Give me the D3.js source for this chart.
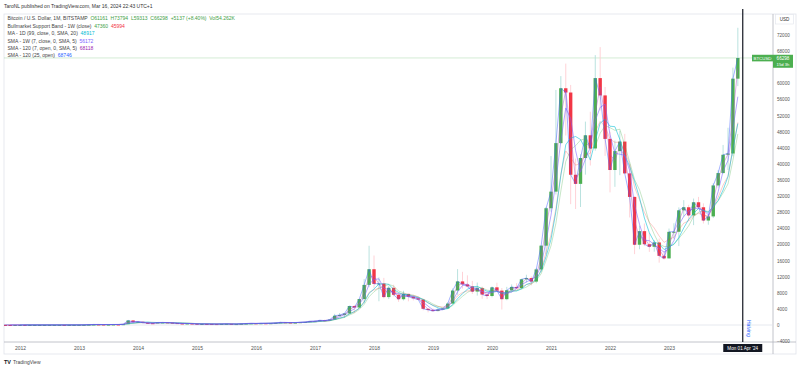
<!DOCTYPE html>
<html>
<head>
<meta charset="utf-8">
<script src="https://cdn.jsdelivr.net/npm/d3@7"></script>
<style>
  body { margin: 0; background: #fff; }
  text { font-family: "Liberation Sans", Arial, sans-serif; }
</style>
</head>
<body>
<script>
// Monthly BTC/USD candles (Bitstamp), Sep 2011 .. Mar 2024
const firstMonth = new Date(2011, 8, 1);

const opens = [
  5.3, 5.1, 3.2, 3.0,
  4.7, 5.5, 4.9, 4.9, 5.0, 5.15, 6.7, 9.3, 10.2, 12.4, 11.2, 12.6,
  13.5, 20.4, 33.4, 93, 139, 129, 97, 106, 135, 128, 204, 1130,
  732, 800, 550, 450, 446, 628, 640, 585, 480, 386, 338, 378,
  320, 217, 254, 244, 236, 230, 263, 284, 230, 236, 314, 377,
  430, 369, 437, 416, 448, 531, 673, 624, 573, 608, 699, 743,
  964, 965, 1190, 1080, 1350, 2300, 2480, 2870, 4710, 4340, 6440, 9950,
  13850, 10200, 10300, 6930, 9240, 7500, 6400, 7730, 7020, 6630, 6310, 4020,
  3740, 3460, 3830, 4100, 5320, 8560, 10820, 10080, 9600, 8300, 9160, 7560,
  7200, 9350, 8540, 6410, 8630, 9450, 9140, 11350, 11650, 10780, 13800, 19700,
  28990, 33110, 45160, 58780, 57720, 37300, 35040, 41460, 47100, 43830, 61300, 57000,
  46200, 38480, 43180, 45540, 37640, 31800, 19930, 23300, 20050, 19420, 20490, 17170,
  16540, 23130, 23150, 28470, 29230, 27210, 30470, 29230, 25940, 26960, 34650, 37720,
  42270, 42580, 61161
];
const highs = [
  6.0, 5.3, 3.7, 4.8,
  7.4, 6.3, 5.4, 5.3, 5.2, 6.7, 9.3, 15.4, 12.9, 12.6, 12.9, 13.8,
  20.4, 33.4, 95, 260, 140, 130, 110, 135, 145, 215, 1163, 1163,
  1000, 840, 710, 550, 640, 680, 650, 600, 500, 420, 460, 385,
  320, 265, 300, 261, 248, 268, 318, 285, 245, 335, 495, 465,
  462, 440, 440, 467, 550, 780, 675, 625, 630, 720, 760, 970,
  1150, 1205, 1300, 1420, 2760, 2980, 2910, 4740, 4980, 6470, 11400, 19666,
  17250, 11800, 11700, 9800, 9990, 7780, 8500, 7760, 7400, 7000, 6570, 4250,
  4100, 4200, 4120, 5640, 9100, 13880, 13200, 12330, 10950, 10540, 9530, 7750,
  9580, 10500, 9190, 9470, 10080, 10390, 11450, 12470, 12070, 14100, 19860, 29300,
  41950, 58350, 61790, 64900, 59600, 41330, 42400, 50500, 52950, 67000, 69000, 59100,
  47990, 45800, 48200, 47450, 40000, 31950, 24650, 25200, 22800, 21100, 21450, 18390,
  23950, 25250, 29200, 31000, 29840, 31400, 31800, 30200, 27480, 35200, 38450, 44700,
  48970, 63900, 73794
];
const lows = [
  4.4, 2.2, 2.0, 2.8,
  4.3, 4.2, 4.5, 4.7, 4.9, 5.1, 6.5, 7.1, 9.8, 9.9, 10.0, 12.2,
  12.8, 19.5, 33, 50, 79, 65, 65, 102, 108, 105, 200, 410,
  730, 400, 440, 340, 420, 550, 570, 440, 360, 290, 320, 300,
  152, 212, 236, 214, 227, 218, 253, 162, 225, 235, 305, 350,
  350, 365, 397, 414, 440, 520, 580, 470, 567, 604, 680, 741,
  750, 910, 900, 1060, 1350, 2100, 1840, 2700, 2970, 4110, 5500, 9380,
  9200, 5900, 6600, 6440, 7100, 5750, 6080, 5880, 6100, 6200, 3650, 3150,
  3350, 3380, 3700, 4080, 5320, 7500, 9050, 9320, 7710, 7300, 6510, 6430,
  6870, 8450, 3850, 6150, 8120, 8910, 8970, 10530, 9840, 10380, 13200, 17600,
  28130, 32400, 44950, 47050, 30000, 28800, 29300, 37330, 39600, 43290, 53250, 42000,
  32930, 34300, 37200, 37580, 26700, 17600, 18800, 19600, 18150, 18200, 15480, 16260,
  16500, 21400, 19600, 26900, 25810, 24800, 28900, 25200, 24900, 26550, 34100, 37600,
  38500, 41880, 59313
];
const closes = [
  5.1, 3.2, 3.0, 4.7,
  5.5, 4.9, 4.9, 5.0, 5.15, 6.7, 9.3, 10.2, 12.4, 11.2, 12.6, 13.5,
  20.4, 33.4, 93, 139, 129, 97, 106, 135, 128, 204, 1130, 732,
  800, 550, 450, 446, 628, 640, 585, 480, 386, 338, 378, 320,
  217, 254, 244, 236, 230, 263, 284, 230, 236, 314, 377, 430,
  369, 437, 416, 448, 531, 673, 624, 573, 608, 699, 743, 964,
  965, 1190, 1080, 1350, 2300, 2480, 2870, 4710, 4340, 6440, 9950, 13850,
  10200, 10300, 6930, 9240, 7500, 6400, 7730, 7020, 6630, 6310, 4020, 3740,
  3460, 3830, 4100, 5320, 8560, 10820, 10080, 9600, 8300, 9160, 7560, 7200,
  9350, 8540, 6410, 8630, 9450, 9140, 11350, 11650, 10780, 13800, 19700, 28990,
  33110, 45160, 58780, 57720, 37300, 35040, 41460, 47100, 43830, 61300, 57000, 46200,
  38480, 43180, 45540, 37640, 31800, 19930, 23300, 20050, 19420, 20490, 17170, 16540,
  23130, 23150, 28470, 29230, 27210, 30470, 29230, 25940, 26960, 34650, 37720, 42270,
  42580, 61160, 66298
];

// 2024 sits under the crosshair date label, so it is not drawn
const yearLabels = ["2012", "2013", "2014", "2015", "2016", "2017", "2018",
                    "2019", "2020", "2021", "2022", "2023"];
const priceTicks = [-4000, 0, 4000, 8000, 12000, 16000, 20000, 24000, 28000, 32000,
                    36000, 40000, 44000, 48000, 52000, 56000, 60000, 68000, 72000];
const lastPrice = 66298;

const W = 800, H = 370;
const plot = { left: 4, right: 773, top: 14, bottom: 342 };

const candles = opens.map((o, i) => ({ i, o, h: highs[i], l: lows[i], c: closes[i] }));

// month index -> px (Jan 2012 is index 4)
const x = d3.scaleLinear().domain([4, 148]).range([20, 728]);
const y = d3.scaleLinear().domain([0, 72000]).range([325, 35]);

// indicator lines, derived from the closes
function sma(arr, n) {
  return arr.map((v, i) => i < n - 1 ? NaN : d3.mean(arr.slice(i - n + 1, i + 1)));
}
function ema(arr, n) {
  const k = 2 / (n + 1);
  let prev = arr[0];
  return arr.map(v => (prev = prev + k * (v - prev)));
}
const indicators = [
  { values: ema(closes, 6), color: "#f44336", opacity: 0.35 },
  { values: sma(closes, 6), color: "#4caf50", opacity: 0.4 },
  { values: sma(closes, 5), color: "#00bcd4", opacity: 0.7 },
  { values: sma(closes, 3), color: "#7b61ff", opacity: 0.7 },
  { values: sma(closes, 2), color: "#ab47bc", opacity: 0.55 },
  { values: closes, color: "#3d5afe", opacity: 0.6 }
];

const svg = d3.select("body").append("svg")
  .attr("width", W)
  .attr("height", H);

svg.append("defs").append("clipPath").attr("id", "clip")
  .append("rect")
  .attr("x", plot.left).attr("y", plot.top)
  .attr("width", plot.right - plot.left).attr("height", plot.bottom - plot.top);

// frame
svg.append("rect")
  .attr("x", plot.left).attr("y", plot.top)
  .attr("width", 796 - plot.left).attr("height", 354 - plot.top)
  .attr("fill", "none").attr("stroke", "#e0e3eb").attr("stroke-width", 0.8);
svg.append("line")
  .attr("x1", plot.right).attr("x2", plot.right)
  .attr("y1", plot.top).attr("y2", 354)
  .attr("stroke", "#b2b5be").attr("stroke-width", 0.8);

// header
svg.append("text")
  .attr("x", 4).attr("y", 8)
  .attr("font-size", 5).attr("fill", "#333")
  .text("TaroNL published on TradingView.com, Mar 16, 2024 22:43 UTC+1");

const g = svg.append("g").attr("clip-path", "url(#clip)");

// zero line and last price line
g.append("line")
  .attr("x1", plot.left).attr("x2", plot.right)
  .attr("y1", y(0)).attr("y2", y(0))
  .attr("stroke", "#e0e3eb").attr("stroke-width", 0.8);
g.append("line")
  .attr("x1", plot.left).attr("x2", plot.right)
  .attr("y1", y(lastPrice)).attr("y2", y(lastPrice))
  .attr("stroke", "#4caf50").attr("stroke-opacity", 0.3).attr("stroke-width", 0.8);

// wicks
g.selectAll(".wick")
  .data(candles)
  .enter().append("line")
  .attr("class", "wick")
  .attr("x1", d => x(d.i)).attr("x2", d => x(d.i))
  .attr("y1", d => y(d.h)).attr("y2", d => y(d.l))
  .attr("stroke", d => d.c >= d.o ? "#b2dfdb" : "#ffcdd2")
  .attr("stroke-width", 0.9);

// bodies
g.selectAll(".body")
  .data(candles)
  .enter().append("rect")
  .attr("class", "body")
  .attr("x", d => x(d.i) - 1.7)
  .attr("width", 3.4)
  .attr("y", d => y(Math.max(d.o, d.c)))
  .attr("height", d => Math.max(1, Math.abs(y(d.o) - y(d.c))))
  .attr("fill", d => d.c >= d.o ? "#4caf50" : "#f23645");

// indicators
const line = d3.line()
  .defined(v => !isNaN(v))
  .x((v, i) => x(i))
  .y(v => y(v));

g.selectAll(".ind")
  .data(indicators)
  .enter().append("path")
  .attr("class", "ind")
  .attr("d", d => line(d.values))
  .attr("fill", "none")
  .attr("stroke", d => d.color)
  .attr("stroke-opacity", d => d.opacity)
  .attr("stroke-width", 0.8);

// x axis
const xAxis = svg.append("g")
  .attr("transform", "translate(0," + plot.bottom + ")")
  .call(d3.axisBottom(x)
    .tickValues(yearLabels.map((s, k) => 4 + k * 12))
    .tickFormat((d, k) => yearLabels[k])
    .tickSize(0).tickPadding(4));
xAxis.select(".domain").remove();
xAxis.selectAll("text").attr("font-size", 5).attr("fill", "#555").attr("font-family", null);
svg.append("line")
  .attr("x1", plot.left).attr("x2", 796)
  .attr("y1", plot.bottom).attr("y2", plot.bottom)
  .attr("stroke", "#b2b5be").attr("stroke-width", 0.8);

// y axis
const yAxis = svg.append("g")
  .attr("transform", "translate(" + (plot.right + 1) + ",0)")
  .call(d3.axisRight(y).tickValues(priceTicks).tickFormat(d3.format("d")).tickSize(0).tickPadding(3));
yAxis.select(".domain").remove();
yAxis.selectAll("text").attr("font-size", 4.6).attr("fill", "#555").attr("font-family", null);

// halving marker + crosshair
const crossX = x(151);
svg.append("line")
  .attr("x1", crossX).attr("x2", crossX)
  .attr("y1", 9).attr("y2", plot.bottom)
  .attr("stroke", "#131722").attr("stroke-width", 1.2);
svg.append("text")
  .attr("transform", "translate(" + (crossX + 4) + ",320) rotate(90)")
  .attr("font-size", 5).attr("fill", "#2962ff")
  .text("Halving");
svg.append("rect")
  .attr("x", crossX - 19.5).attr("y", 344)
  .attr("width", 39).attr("height", 8)
  .attr("fill", "#131722");
svg.append("text")
  .attr("x", crossX).attr("y", 349.8)
  .attr("text-anchor", "middle")
  .attr("font-size", 4.6).attr("fill", "#fff")
  .text("Mon 01 Apr '24");

// price labels
svg.append("rect")
  .attr("x", 752).attr("y", y(lastPrice) - 3.2)
  .attr("width", 21).attr("height", 6.6)
  .attr("fill", "#4caf50");
svg.append("text")
  .attr("x", 762.5).attr("y", y(lastPrice) + 1.7)
  .attr("text-anchor", "middle")
  .attr("font-size", 4.4).attr("fill", "#fff")
  .text("BTCUSD");
svg.append("rect")
  .attr("x", plot.right).attr("y", y(lastPrice) - 3.2)
  .attr("width", 20).attr("height", 13)
  .attr("fill", "#4caf50");
svg.append("text")
  .attr("x", 783).attr("y", y(lastPrice) + 1.7)
  .attr("text-anchor", "middle")
  .attr("font-size", 4.6).attr("fill", "#fff")
  .text(String(lastPrice));
svg.append("text")
  .attr("x", 783).attr("y", y(lastPrice) + 7.6)
  .attr("text-anchor", "middle")
  .attr("font-size", 4.2).attr("fill", "#fff")
  .text("15d 3h");

// currency box
svg.append("rect")
  .attr("x", 775.5).attr("y", 14.5)
  .attr("width", 18).attr("height", 9.5)
  .attr("fill", "#fff").attr("stroke", "#e0e3eb").attr("stroke-width", 0.6);
svg.append("text")
  .attr("x", 784.5).attr("y", 21)
  .attr("text-anchor", "middle")
  .attr("font-size", 4.6).attr("fill", "#333")
  .text("USD");

// legend
const legend = [
  { y: 20, parts: [["Bitcoin / U.S. Dollar, 1M, BITSTAMP  ", "#444"], ["O61161  H73794  L59313  C66298  +5137 (+8.40%)  Vol54.262K", "#43a047"]] },
  { y: 27.5, parts: [["Bullmarket Support Band - 1W (close)  ", "#444"], ["47360  ", "#43a047"], ["45994", "#f23645"]] },
  { y: 35, parts: [["MA - 1D (99, close, 0, SMA, 20)  ", "#444"], ["48917", "#00bcd4"]] },
  { y: 42.5, parts: [["SMA - 1W (7, close, 0, SMA, 5)  ", "#444"], ["56172", "#7b61ff"]] },
  { y: 50, parts: [["SMA - 120 (7, open, 0, SMA, 5)  ", "#444"], ["68118", "#9c27b0"]] },
  { y: 57, parts: [["SMA - 120 (25, open)  ", "#444"], ["68746", "#2962ff"]] }
];
const lg = svg.selectAll(".legend")
  .data(legend)
  .enter().append("text")
  .attr("class", "legend")
  .attr("x", 7.5).attr("y", d => d.y)
  .attr("font-size", 5)
  .attr("xml:space", "preserve");
lg.selectAll("tspan")
  .data(d => d.parts)
  .enter().append("tspan")
  .attr("fill", p => p[1])
  .text(p => p[0]);

// logo
svg.append("text")
  .attr("x", 4).attr("y", 364)
  .attr("font-size", 5.5).attr("font-weight", 900).attr("fill", "#131722")
  .text("TV");
svg.append("text")
  .attr("x", 13).attr("y", 364)
  .attr("font-size", 5).attr("fill", "#444")
  .text("TradingView");
</script>
</body>
</html>
